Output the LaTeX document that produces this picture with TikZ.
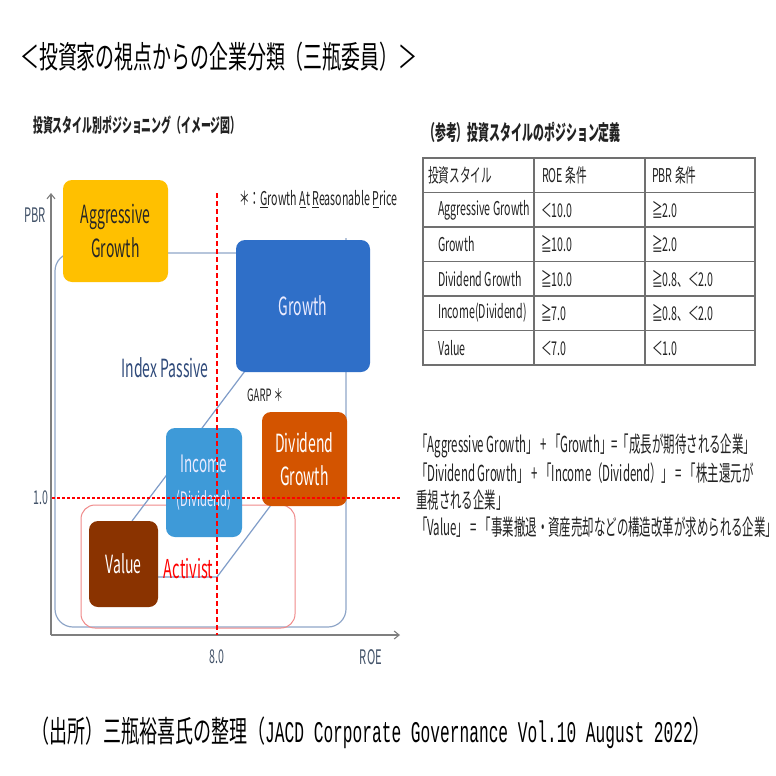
\documentclass[tikz,border=0pt]{standalone}
\usepackage{fontspec}
\setmainfont{Noto Sans CJK JP}
\newfontfamily\jpA[FakeStretch=0.56]{Noto Sans CJK JP}
\newfontfamily\jpN[FakeStretch=0.52]{Noto Sans CJK JP}
\newfontfamily\jpB[FakeStretch=0.6]{Noto Sans CJK JP}
\newfontfamily\jpT[FakeStretch=0.61]{Noto Sans CJK JP}
\newfontfamily\monoB[FakeStretch=0.54]{Liberation Mono}
\usetikzlibrary{arrows.meta,calc}
\newcommand\fsz[1]{\fontsize{#1}{#1}\selectfont}
\definecolor{aggc}{HTML}{FFC000}
\definecolor{growc}{HTML}{2F6FC8}
\definecolor{incc}{HTML}{3E9AD8}
\definecolor{divc}{HTML}{D35400}
\definecolor{valc}{HTML}{8A3300}
\definecolor{outc}{HTML}{8FA6C8}
\definecolor{actc}{HTML}{F08A8A}
\definecolor{garpc}{HTML}{7F9CC8}
\definecolor{axc}{HTML}{7F7F7F}
\definecolor{lblc}{HTML}{44546A}
\definecolor{idxc}{HTML}{2F4A7A}
\definecolor{txc}{HTML}{222222}
\definecolor{tabc}{HTML}{707070}
\tikzset{
  stylebox/.style={rounded corners=9pt, inner sep=0pt, align=center, font=\jpA\fsz{25}},
  axisline/.style={draw=axc, line width=1.1pt, -{Straight Barb[length=5pt,width=8pt]}},
  outl/.style={draw=outc, line width=1.2pt, rounded corners=18pt},
  actl/.style={draw=actc, line width=1pt, rounded corners=14pt},
  garpl/.style={draw=garpc, line width=1.2pt},
  hdash/.style={draw=red, line width=1.7pt, dash pattern=on 3pt off 2pt},
  vdash/.style={draw=red, line width=1.1pt, dash pattern=on 5pt off 3pt},
  lbl/.style={inner sep=0pt, text=lblc, font=\jpA\fsz{19}},
  tabout/.style={draw=tabc, line width=1.6pt},
  tabin/.style={draw=tabc, line width=1.2pt},
  cell/.style={anchor=west, inner sep=0pt, text=txc, font=\jpA\fsz{19}},
  tline/.style={anchor=west, inner sep=0pt, text=txc, font=\jpN\fsz{22}},
}
\begin{document}
\begin{tikzpicture}[x=1pt,y=-1pt]
\useasboundingbox[fill=white] (0,0) rectangle (776,776);

% title
\node[anchor=west, inner sep=0pt, text=black, font=\jpT\fsz{31}] (title) at (20,57) {＜投資家の視点からの企業分類（三瓶委員）＞};

% subtitle
\node[anchor=west, inner sep=0pt, text=txc, font=\jpN\bfseries\fsz{19}] (sub) at (33,125) {投資スタイル別ポジショニング（イメージ図）};

% axes
\coordinate (orig) at (51,635);
\coordinate (ytop) at (51,193);
\coordinate (xend) at (400,635);
\draw[axisline] (orig) -- (ytop);
\draw[axisline] (orig) -- (xend);

% regions
\draw[outl] (346,238) -- (346,627) -- (55,627) -- (55,253) -- (236,253);
\draw[actl] (81,505) rectangle (295,628);

% box centres
\coordinate (cag) at (115.5,231);
\coordinate (cgr) at (303,306);
\coordinate (cinc) at (204,482.5);
\coordinate (cdg) at (304.5,459);
\coordinate (cval) at (123.5,564);

% GARP lines (behind the boxes)
\coordinate (g1) at (132,521);
\coordinate (g2) at (245,371);
\draw[garpl] (g1) -- (g2);
\coordinate (h1) at (158,577);
\coordinate (h2) at (217,577);
\coordinate (h3) at (271,505);
\draw[garpl] (h1) -- (h2) -- (h3);

\node[stylebox, fill=aggc, minimum width=105pt, minimum height=102pt, text=black!85] (ag) at (cag) {Aggressive\\[7pt]Growth};
\node[stylebox, fill=growc, minimum width=134pt, minimum height=132pt, text=white!92!blue] (gr) at (cgr) {Growth};
\node[stylebox, fill=incc, minimum width=76pt, minimum height=109pt, text=white!92!blue] (inc) at (cinc) {{\fsz{24}Income}\\[9pt]{\fsz{20}(Dividend)}};
\node[stylebox, fill=divc, minimum width=85pt, minimum height=94pt, text=white] (dg) at (cdg) {Dividend\\[8pt]Growth};
\node[stylebox, fill=valc, minimum width=69pt, minimum height=86pt, text=white] (val) at (cval) {Value};

% red reference lines
\coordinate (hl1) at (52,498);
\coordinate (hl2) at (400,498);
\draw[hdash] (hl1) -- (hl2);
\coordinate (vl1) at (217,193);
\coordinate (vl2) at (217,635);
\draw[vdash] (vl1) -- (vl2);

% labels
\node[lbl, font=\jpA\fsz{20}] (pbr) at (35,215) {PBR};
\node[lbl, font=\jpA\fsz{19}] (one) at (41,498) {1.0};
\node[lbl, font=\jpA\fsz{19}] (eight) at (217,657) {8.0};
\node[lbl, font=\jpA\fsz{20}] (roe) at (371,657) {ROE};
\node[inner sep=0pt, text=idxc, font=\jpA\fsz{25}] (idx) at (165,368) {Index Passive};
\node[inner sep=0pt, text=red, font=\jpA\fsz{26}] (act) at (188.5,569) {Activist};
\node[anchor=west, inner sep=0pt, text=txc, font=\jpA\fsz{17}] (garp) at (247,395) {GARP ＊};
\node[anchor=west, inner sep=0pt, text=txc, font=\jpA\fsz{19}] (note) at (239,199) {＊：\underline{G}rowth \underline{A}t \underline{R}easonable \underline{P}rice};

% reference table
\node[anchor=west, inner sep=0pt, text=txc, font=\jpN\bfseries\fsz{21}] (thead) at (424,132) {（参考）投資スタイルのポジション定義};
\draw[tabout] (423,158) rectangle (755,365);
\foreach \yy in {192.5,227,261.5,296,330.5} \draw[tabin] (423,\yy) -- (755,\yy);
\draw[tabin] (534,158) -- (534,365);
\draw[tabin] (645,158) -- (645,365);
\node[cell] (c01) at (428,175) {投資スタイル};
\node[cell] (c02) at (542,175) {ROE 条件};
\node[cell] (c03) at (652,175) {PBR 条件};
\node[cell] (c11) at (438,210) {Aggressive Growth};
\node[cell] (c12) at (541,210) {＜10.0};
\node[cell] (c13) at (652,210) {≧2.0};
\node[cell] (c21) at (438,244) {Growth};
\node[cell] (c22) at (541,244) {≧10.0};
\node[cell] (c23) at (652,244) {≧2.0};
\node[cell] (c31) at (438,279) {Dividend Growth};
\node[cell] (c32) at (541,279) {≧10.0};
\node[cell] (c33) at (652,279) {≧0.8、＜2.0};
\node[cell] (c41) at (438,313) {Income(Dividend)};
\node[cell] (c42) at (541,313) {≧7.0};
\node[cell] (c43) at (652,313) {≧0.8、＜2.0};
\node[cell] (c51) at (438,348) {Value};
\node[cell] (c52) at (541,348) {＜7.0};
\node[cell] (c53) at (652,348) {＜1.0};

% text block
\node[tline] (t1) at (416,446) {「Aggressive Growth」 + 「Growth」=「成長が期待される企業」};
\node[tline] (t2) at (416,473) {「Dividend Growth」 + 「Income（Dividend）」 = 「株主還元が};
\node[tline] (t3) at (416,500) {重視される企業」};
\node[tline] (t4) at (416,527) {「Value」 = 「事業撤退・資産売却などの構造改革が求められる企業」};

% source
\node[anchor=west, inner sep=0pt, text=black, font=\jpB\fsz{30}] (src) at (31,733) {（出所）三瓶裕喜氏の整理（{\monoB JACD Corporate Governance Vol.10 August 2022}）};
\end{tikzpicture}
\end{document}
